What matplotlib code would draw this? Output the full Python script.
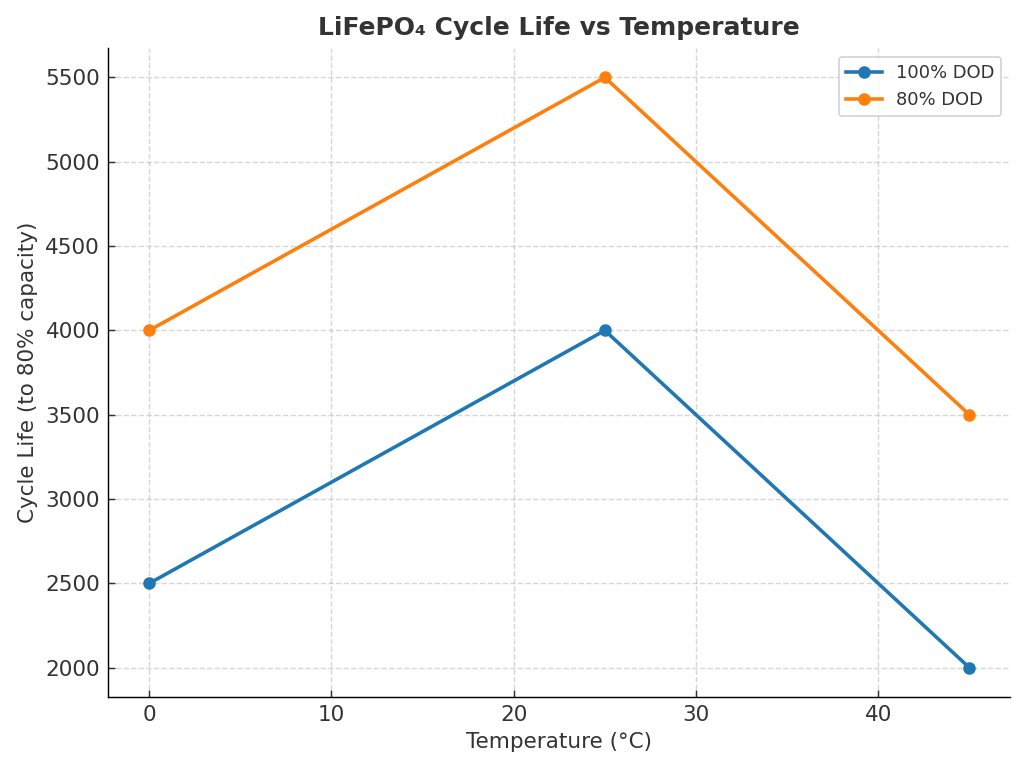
import matplotlib
matplotlib.use("Agg")
import matplotlib.pyplot as plt

# data
temps = [0, 25, 45]
dod100 = [2500, 4000, 2000]
dod80 = [4000, 5500, 3500]

plt.rcParams['font.family'] = ['DejaVu Sans']
plt.rcParams['text.color'] = '#333333'
plt.rcParams['axes.labelcolor'] = '#333333'
plt.rcParams['xtick.color'] = '#333333'
plt.rcParams['ytick.color'] = '#333333'

fig, ax = plt.subplots(figsize=(1030/128.75, 773/128.75), dpi=128.75)
fig.subplots_adjust(left=0.105, right=0.981, top=0.938, bottom=0.098)

ax.plot(temps, dod100, marker='o', color='#1f77b4', linewidth=2, markersize=6, label='100% DOD')
ax.plot(temps, dod80, marker='o', color='#ff7f0e', linewidth=2, markersize=6, label='80% DOD')

ax.set_title('LiFePO₄ Cycle Life vs Temperature', fontsize=14, fontweight='bold', pad=7)
ax.set_xlabel('Temperature (°C)', fontsize=12)
ax.set_ylabel('Cycle Life (to 80% capacity)', fontsize=12)
ax.tick_params(labelsize=12, direction='in', length=4, pad=4.5)
ax.grid(True, linestyle='--', alpha=0.5)
ax.spines['top'].set_visible(False)
ax.spines['right'].set_visible(False)
ax.legend(fontsize=10)

fig.savefig('out.png', dpi=128.75)
